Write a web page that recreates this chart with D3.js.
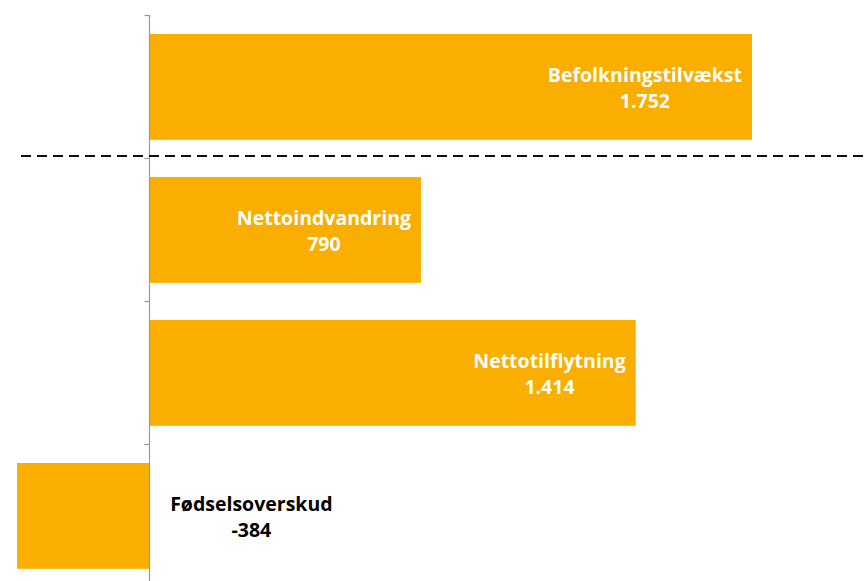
<!DOCTYPE html>
<html>
<head>
<meta charset="utf-8">
<script src="https://cdn.jsdelivr.net/npm/d3@7"></script>
<style>
  html, body { margin: 0; padding: 0; background: #fff; }
  svg { display: block; }
  text { font-family: "Open Sans", "Liberation Sans", sans-serif; font-weight: 700; }
</style>
</head>
<body>
<svg id="chart" width="866" height="581"></svg>
<script>
// Data
const categories = ["Befolkningstilvækst", "Nettoindvandring", "Nettotilflytning", "Fødselsoverskud"];
const values = [1752, 790, 1414, -384];
const valueLabels = ["1.752", "790", "1.414", "-384"];

const svg = d3.select("#chart");
const W = 866, H = 581;

const x = d3.scaleLinear().domain([-384, 1752]).range([17, 752]);
const y = d3.scaleBand().domain(categories).range([15.4, 587.4]).paddingInner(0.26).paddingOuter(0.13);

const barColor = "#F9AE00";

// Bars
svg.selectAll("rect.bar")
  .data(categories)
  .join("rect")
  .attr("class", "bar")
  .attr("x", (d, i) => Math.min(x(0), x(values[i])))
  .attr("width", (d, i) => Math.abs(x(values[i]) - x(0)))
  .attr("y", d => y(d))
  .attr("height", y.bandwidth())
  .attr("fill", barColor);

// Axis at zero
const x0 = Math.round(x(0)) + 0.5;
svg.append("line")
  .attr("x1", x0).attr("x2", x0)
  .attr("y1", 15).attr("y2", H)
  .attr("stroke", "#9a9a9a").attr("stroke-width", 1.2);

// Ticks at band boundaries
const boundaries = categories.map(d => y(d) - y.step() * y.paddingInner() / 2);
svg.selectAll("line.tick")
  .data(boundaries)
  .join("line")
  .attr("class", "tick")
  .attr("x1", x0 - 5).attr("x2", x0)
  .attr("y1", d => Math.round(d) + 0.5).attr("y2", d => Math.round(d) + 0.5)
  .attr("stroke", "#9a9a9a").attr("stroke-width", 1.2);

// Dashed separator line
svg.append("line")
  .attr("x1", 21).attr("x2", W)
  .attr("y1", 156).attr("y2", 156)
  .attr("stroke", "#111").attr("stroke-width", 2)
  .attr("stroke-dasharray", "10,6");

// Labels
const fontSize = 19.5;
categories.forEach((c, i) => {
  const v = values[i];
  const cy = y(c) + y.bandwidth() / 2;
  const g = svg.append("g");
  const t1 = g.append("text")
    .attr("font-size", fontSize)
    .attr("fill", v >= 0 ? "#fff" : "#000")
    .attr("text-anchor", "middle")
    .attr("y", cy - 5)
    .text(c);
  const w = t1.node().getComputedTextLength();
  const cx = v >= 0 ? x(v) - 10 - w / 2 : x(0) + 21 + w / 2;
  t1.attr("x", cx);
  g.append("text")
    .attr("font-size", fontSize)
    .attr("fill", v >= 0 ? "#fff" : "#000")
    .attr("text-anchor", "middle")
    .attr("x", cx)
    .attr("y", cy + 21)
    .text(valueLabels[i]);
});
</script>
</body>
</html>
